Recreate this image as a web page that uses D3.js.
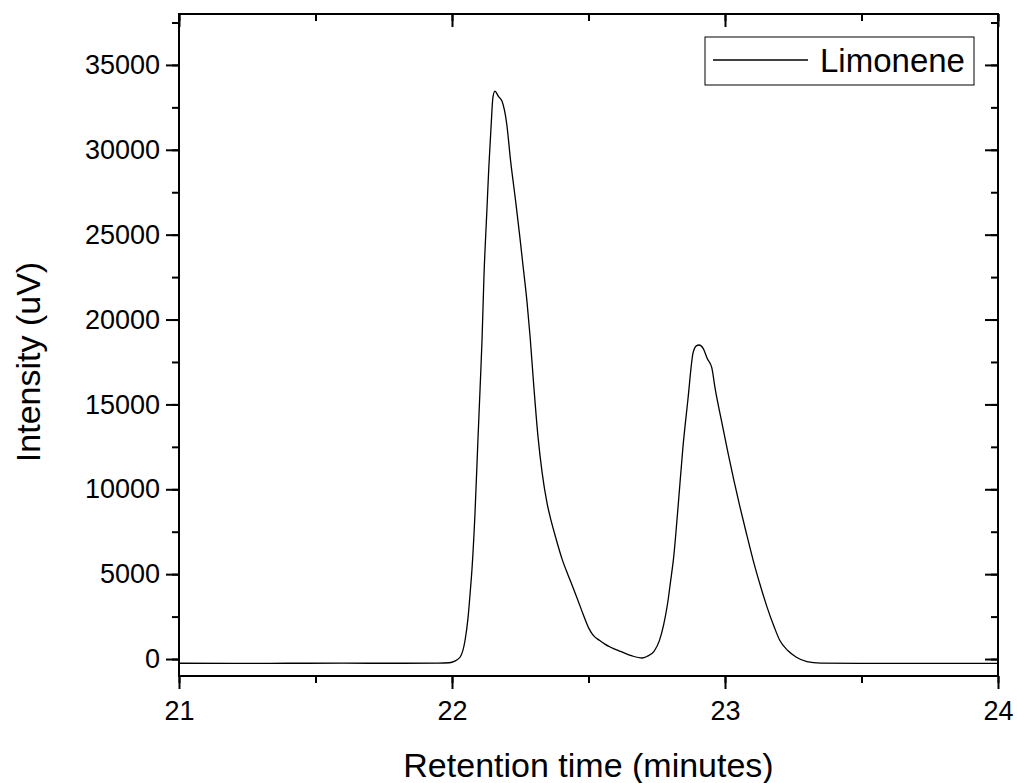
<!DOCTYPE html>
<html>
<head>
<meta charset="utf-8">
<script src="https://cdn.jsdelivr.net/npm/d3@7"></script>
<style>
  body { margin: 0; background: #fff; }
  svg { display: block; font-family: "Liberation Sans", Arial, sans-serif; }
</style>
</head>
<body>
<div id="chart"></div>
<script>
// retention time (minutes) and detector signal (uV)
var times = [21.0, 21.2, 21.4, 21.6, 21.8, 21.95, 21.99, 22.01, 22.03, 22.048, 22.059, 22.066, 22.073,
  22.084, 22.095, 22.103, 22.110, 22.117, 22.128, 22.135, 22.143, 22.150, 22.157, 22.170, 22.183,
  22.200, 22.215, 22.234, 22.249, 22.260, 22.275, 22.286, 22.300, 22.315, 22.330, 22.348, 22.363,
  22.380, 22.403, 22.425, 22.440, 22.458, 22.480, 22.500, 22.516, 22.540, 22.560, 22.579, 22.620,
  22.660, 22.696, 22.714, 22.740, 22.760, 22.775, 22.790, 22.800, 22.812, 22.828, 22.846, 22.864,
  22.883, 22.895, 22.905, 22.920, 22.935, 22.952, 22.963, 22.985, 23.011, 23.033, 23.055, 23.080,
  23.103, 23.130, 23.154, 23.180, 23.200, 23.230, 23.260, 23.300, 23.350, 23.500, 23.700, 23.900, 24.0];
var intensity = [-250, -255, -250, -245, -250, -245, -220, -120, 120, 1120, 2470, 3800, 5240,
  8500, 12900, 16000, 18790, 22500, 26500, 29000, 31340, 33100, 33460, 33150, 32870,
  31580, 29300, 26860, 24800, 23200, 21000, 19000, 16000, 13100, 11000, 9200, 8150,
  7150, 5900, 4950, 4350, 3600, 2650, 1850, 1420, 1100, 880, 710, 430,
  180, 60, 150, 450, 1100, 2000, 3300, 4500, 6000, 8950, 12490, 15260,
  18030, 18450, 18500, 18300, 17700, 17140, 16020, 14200, 12140, 10500, 8950, 7300,
  5830, 4300, 3060, 1900, 1120, 500, 120, -150, -240, -260, -255, -260, -255];

var xTicks = [21, 22, 23, 24];
var yTicks = [0, 5000, 10000, 15000, 20000, 25000, 30000, 35000];
var seriesName = "Limonene";

var data = times.map(function(t, i) { return {t: t, v: intensity[i]}; });

var W = 1017, H = 783;
var margin = {top: 14, right: 19, bottom: 107, left: 179},
    width = W - margin.left - margin.right,
    height = H - margin.top - margin.bottom;

var svg = d3.select("#chart").append("svg")
  .attr("width", W)
  .attr("height", H);

var g = svg.append("g")
  .attr("transform", "translate(" + margin.left + "," + margin.top + ")");

var x = d3.scaleLinear().domain([21, 24]).range([0, width]);
var y = d3.scaleLinear().domain([-1000, 38000]).range([height, 0]);

var minorX = d3.range(21, 24.01, 0.5);
var minorY = d3.range(0, 38000, 2500);

function styleAxis(sel) {
  sel.select(".domain").remove();
  sel.selectAll("line").attr("stroke", "#000").attr("stroke-width", 2);
  sel.selectAll("text").attr("fill", "#000").style("font-size", "27px");
}

// minor ticks first, majors with labels on top
g.append("g").attr("transform", "translate(0," + height + ")")
  .call(d3.axisBottom(x).tickValues(minorX).tickSize(7).tickFormat(""))
  .call(styleAxis);
g.append("g").attr("transform", "translate(0," + height + ")")
  .call(d3.axisBottom(x).tickValues(xTicks).tickSize(13).tickPadding(12).tickFormat(d3.format("d")))
  .call(styleAxis);

g.append("g")
  .call(d3.axisLeft(y).tickValues(minorY).tickSize(7).tickFormat(""))
  .call(styleAxis);
g.append("g")
  .call(d3.axisLeft(y).tickValues(yTicks).tickSize(13).tickPadding(6).tickFormat(d3.format("d")))
  .call(styleAxis);

// top and right: inward ticks, no labels
g.append("g")
  .call(d3.axisBottom(x).tickValues(minorX).tickSize(7).tickFormat(""))
  .call(styleAxis);
g.append("g")
  .call(d3.axisBottom(x).tickValues(xTicks).tickSize(13).tickFormat(""))
  .call(styleAxis);
g.append("g").attr("transform", "translate(" + width + ",0)")
  .call(d3.axisLeft(y).tickValues(minorY).tickSize(7).tickFormat(""))
  .call(styleAxis);
g.append("g").attr("transform", "translate(" + width + ",0)")
  .call(d3.axisLeft(y).tickValues(yTicks).tickSize(13).tickFormat(""))
  .call(styleAxis);

// frame
g.append("rect")
  .attr("width", width)
  .attr("height", height)
  .attr("fill", "none")
  .attr("stroke", "#000")
  .attr("stroke-width", 2);

var line = d3.line()
  .x(function(d) { return x(d.t); })
  .y(function(d) { return y(d.v); })
  .curve(d3.curveMonotoneX);

g.append("path")
  .datum(data)
  .attr("fill", "none")
  .attr("stroke", "#000")
  .attr("stroke-width", 1.3)
  .attr("d", line);

// legend
var legend = svg.append("g").attr("transform", "translate(705,37)");
legend.append("rect")
  .attr("width", 269)
  .attr("height", 48)
  .attr("fill", "#fff")
  .attr("stroke", "#000")
  .attr("stroke-width", 1);
legend.append("line")
  .attr("x1", 8).attr("x2", 103)
  .attr("y1", 23).attr("y2", 23)
  .attr("stroke", "#000")
  .attr("stroke-width", 1.3);
legend.append("text")
  .attr("x", 115)
  .attr("y", 35)
  .style("font-size", "33px")
  .text(seriesName);

// axis titles
svg.append("text")
  .attr("x", margin.left + width / 2)
  .attr("y", 777)
  .attr("text-anchor", "middle")
  .style("font-size", "34px")
  .text("Retention time (minutes)");

svg.append("text")
  .attr("transform", "translate(40," + (margin.top + y(17500)) + ") rotate(-90)")
  .attr("text-anchor", "middle")
  .style("font-size", "34px")
  .text("Intensity (uV)");
</script>
</body>
</html>
